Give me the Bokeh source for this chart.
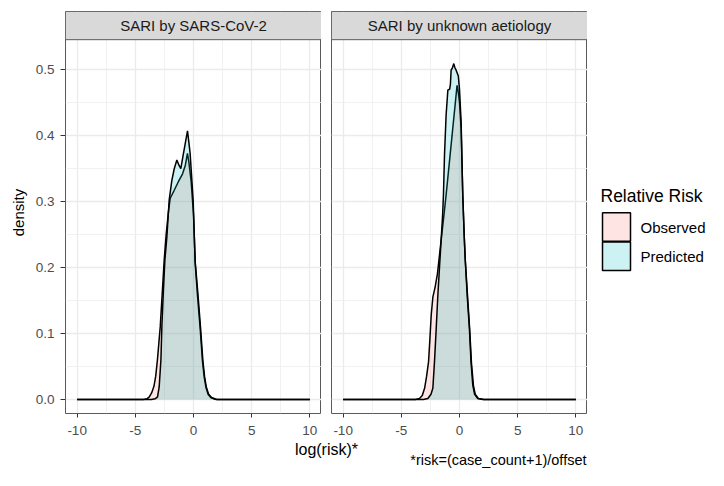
from bokeh.plotting import figure
from bokeh.models import Range1d, FixedTicker, BoxAnnotation, Label, ColumnDataSource, PrintfTickFormatter
from bokeh.layouts import row, column
from bokeh.embed import file_html
from bokeh.resources import INLINE

FONT = "Liberation Sans"

# ---------------- data ----------------
panel_titles = ["SARI by SARS-CoV-2", "SARI by unknown aetiology"]
series_names = ["Observed", "Predicted"]
series_colors = ["#F8766D", "#00BFC4"]
legend_title = "Relative Risk"
x_title = "log(risk)*"
y_title = "density"
caption = "*risk=(case_count+1)/offset"

x_ticks = [-10, -5, 0, 5, 10]
x_minor = [-7.5, -2.5, 2.5, 7.5]
y_ticks = [0.0, 0.1, 0.2, 0.3, 0.4, 0.5]
y_minor = [0.05, 0.15, 0.25, 0.35, 0.45, 0.55]

# SARI by SARS-CoV-2
cov_obs_x = [-10, -4.3, -4.0, -3.8, -3.6, -3.4, -3.25, -3.1, -2.86, -2.69, -2.52, -2.35, -2.15, -2.0,
             -1.66, -1.3, -0.94, -0.7, -0.52, -0.4, -0.2, 0.0, 0.15, 0.34, 0.57, 0.77, 0.92, 1.06,
             1.25, 1.48, 1.8, 2.1, 10]
cov_obs_y = [0, 0, 0.001, 0.004, 0.01, 0.02, 0.035, 0.06, 0.11, 0.16, 0.211, 0.25, 0.285, 0.305,
             0.317, 0.33, 0.342, 0.355, 0.373, 0.36, 0.33, 0.28, 0.205, 0.158, 0.108, 0.058, 0.034, 0.019,
             0.008, 0.003, 0.0005, 0, 0]
cov_pred_x = [-10, -3.6, -3.3, -3.09, -2.95, -2.8, -2.72, -2.6, -2.46, -2.29, -2.09, -1.86, -1.65,
              -1.43, -1.25, -1.09, -0.9, -0.7, -0.515, -0.4, -0.29, -0.03, 0.14, 0.38, 0.6, 0.8,
              0.95, 1.1, 1.3, 1.55, 2.0, 10]
cov_pred_y = [0, 0, 0.001, 0.004, 0.019, 0.06, 0.11, 0.16, 0.211, 0.246, 0.302, 0.332, 0.35,
              0.363, 0.355, 0.35, 0.369, 0.389, 0.407, 0.39, 0.373, 0.302, 0.21, 0.16, 0.11, 0.06,
              0.035, 0.019, 0.008, 0.003, 0, 0]

# SARI by unknown aetiology
unk_obs_x = [-10, -3.8, -3.44, -3.2, -3.0, -2.83, -2.66, -2.55, -2.43, -2.29, -2.1, -1.9, -1.58,
             -1.29, -1.15, -0.9, -0.6, -0.35, -0.21, -0.1, 0.0, 0.14, 0.28, 0.4, 0.5, 0.7, 0.88,
             1.03, 1.2, 1.35, 1.62, 2.1, 10]
unk_obs_y = [0, 0, 0.0015, 0.006, 0.017, 0.035, 0.057, 0.09, 0.128, 0.155, 0.17, 0.19, 0.241,
             0.287, 0.31, 0.354, 0.407, 0.451, 0.476, 0.465, 0.45, 0.41, 0.31, 0.25, 0.21, 0.155, 0.105,
             0.055, 0.021, 0.008, 0.0015, 0, 0]
unk_pred_x = [-10, -3.1, -2.72, -2.45, -2.29, -2.15, -2.0, -1.86, -1.72, -1.58, -1.45, -1.38, -1.29,
              -1.15, -1.0, -0.85, -0.78, -0.72, -0.6, -0.49, -0.4, -0.29, -0.1, 0.0, 0.14, 0.28,
              0.4, 0.48, 0.67, 0.85, 0.99, 1.14, 1.3, 1.57, 2.0, 10]
unk_pred_y = [0, 0, 0.0015, 0.008, 0.017, 0.057, 0.108, 0.158, 0.2, 0.241, 0.28, 0.31, 0.37,
              0.431, 0.469, 0.47, 0.478, 0.499, 0.503, 0.509, 0.503, 0.499, 0.49, 0.47, 0.42, 0.31,
              0.25, 0.216, 0.155, 0.108, 0.057, 0.022, 0.008, 0.0015, 0, 0]

panel_curves = [
    [(cov_obs_x, cov_obs_y), (cov_pred_x, cov_pred_y)],
    [(unk_obs_x, unk_obs_y), (unk_pred_x, unk_pred_y)],
]

# ---------------- layout constants ----------------
X0, X1 = -11, 11
Y0, Y1 = -0.0212, 0.5879      # frame covers strip + panel
PANEL_TOP = 0.5452            # strip bottom / panel top
TOP_B = 11
FRAME_H = 402
BOT_B = 28
ROW_H = TOP_B + FRAME_H + BOT_B
FRAME_W = 256
LEFT_B = 65
GAP = 10
BORDER = "#5a5a5a"
TICK = "#333333"


def make_panel(i):
    left = i == 0
    lb = LEFT_B if left else GAP
    p = figure(width=lb + FRAME_W, height=ROW_H,
               x_range=Range1d(X0, X1), y_range=Range1d(Y0, Y1),
               output_backend="svg", toolbar_location=None,
               y_axis_location="left" if left else None,
               min_border_left=lb, min_border_right=0,
               min_border_top=TOP_B, min_border_bottom=BOT_B)
    p.background_fill_color = "white"
    p.border_fill_color = "white"
    p.outline_line_color = BORDER
    p.outline_line_width = 1

    # grids
    for g, t, m in ((p.xgrid, x_ticks, x_minor), (p.ygrid, y_ticks, y_minor)):
        g.ticker = FixedTicker(ticks=t, minor_ticks=m)
        g.grid_line_color = "#EBEBEB"
        g.grid_line_width = 1.3
        g.minor_grid_line_color = "#EEEEEE"
        g.minor_grid_line_width = 0.8

    # x axis
    xa = p.xaxis[0]
    xa.ticker = FixedTicker(ticks=x_ticks, minor_ticks=x_minor)
    xa.formatter = PrintfTickFormatter(format="%d")
    xa.axis_line_color = None
    xa.major_tick_line_color = TICK
    xa.major_tick_out = 4
    xa.major_tick_in = 0
    xa.minor_tick_line_color = None
    xa.major_label_standoff = 8
    xa.major_label_text_font = FONT
    xa.major_label_text_font_size = "13.5px"
    xa.major_label_text_color = "#4D4D4D"

    if left:
        ya = p.yaxis[0]
        ya.ticker = FixedTicker(ticks=y_ticks, minor_ticks=y_minor)
        ya.formatter = PrintfTickFormatter(format="%.1f")
        ya.axis_line_color = None
        ya.major_tick_line_color = TICK
        ya.major_tick_out = 5
        ya.major_tick_in = 0
        ya.minor_tick_line_color = None
        ya.major_label_standoff = 6
        ya.major_label_text_font = FONT
        ya.major_label_text_font_size = "13.5px"
        ya.major_label_text_color = "#4D4D4D"
        ya.axis_label = y_title
        ya.axis_label_text_font = FONT
        ya.axis_label_text_font_size = "15px"
        ya.axis_label_text_font_style = "normal"
        ya.axis_label_text_color = "black"
        ya.axis_label_standoff = 6

    # densities
    for (xs, ys), color in zip(panel_curves[i], series_colors):
        src = ColumnDataSource(dict(x=xs, y=ys))
        p.varea(x="x", y1=0, y2="y", source=src, fill_color=color, fill_alpha=0.2)
        p.line(x="x", y="y", source=src, line_color="black", line_width=1.5)

    # strip
    strip = BoxAnnotation(left=X0, right=X1, bottom=PANEL_TOP, top=Y1,
                          fill_color="#D9D9D9", fill_alpha=1.0,
                          line_color=BORDER, line_width=1, line_alpha=1.0)
    p.add_layout(strip)
    p.add_layout(Label(x=(X0 + X1) / 2, y=(PANEL_TOP + Y1) / 2, text=panel_titles[i],
                       text_align="center", text_baseline="middle",
                       text_font=FONT, text_font_size="15px", text_color="#1A1A1A"))
    return p


p_left = make_panel(0)
p_right = make_panel(1)

# ---------------- legend ----------------
# the row aligns this figure's frame with the panel frames (page y TOP_B .. TOP_B+FRAME_H),
# so its y range is expressed directly in page pixels
TOTAL_W, TOTAL_H = 708, 470
LEG_W = TOTAL_W - (LEFT_B + FRAME_W) - (GAP + FRAME_W)
leg = figure(width=LEG_W, height=ROW_H, x_range=Range1d(0, LEG_W),
             y_range=Range1d(TOP_B + FRAME_H, TOP_B),
             output_backend="svg", toolbar_location=None,
             x_axis_location=None, y_axis_location=None,
             min_border_left=0, min_border_right=0, min_border_top=TOP_B, min_border_bottom=BOT_B)
leg.grid.visible = False
leg.outline_line_color = None
leg.add_layout(Label(x=13, y=195, text=legend_title, text_align="left", text_baseline="middle",
                     text_font=FONT, text_font_size="17.5px", text_color="black"))
key_tops = [212.3, 241.5]
for name, color, top in zip(series_names, series_colors, key_tops):
    leg.quad(left=15, right=43, top=top, bottom=top + 28.5,
             fill_color=color, fill_alpha=0.2, line_color="black", line_width=1.5)
    leg.add_layout(Label(x=53, y=top + 14.8, text=name, text_align="left", text_baseline="middle",
                         text_font=FONT, text_font_size="15px", text_color="black"))

# ---------------- bottom titles ----------------
BOT_H = TOTAL_H - ROW_H
bot = figure(width=TOTAL_W, height=BOT_H, x_range=Range1d(0, TOTAL_W), y_range=Range1d(BOT_H, 0),
             output_backend="svg", toolbar_location=None,
             x_axis_location=None, y_axis_location=None,
             min_border_left=0, min_border_right=0, min_border_top=0, min_border_bottom=0)
bot.grid.visible = False
bot.outline_line_color = None
bot.add_layout(Label(x=326, y=8, text=x_title, text_align="center", text_baseline="middle",
                     text_font=FONT, text_font_size="16px", text_color="black"))
bot.add_layout(Label(x=586, y=18.5, text=caption, text_align="right", text_baseline="middle",
                     text_font=FONT, text_font_size="14.5px", text_color="black"))

layout = column(row(p_left, p_right, leg), bot)
open("out.html", "w").write(file_html(layout, INLINE))
